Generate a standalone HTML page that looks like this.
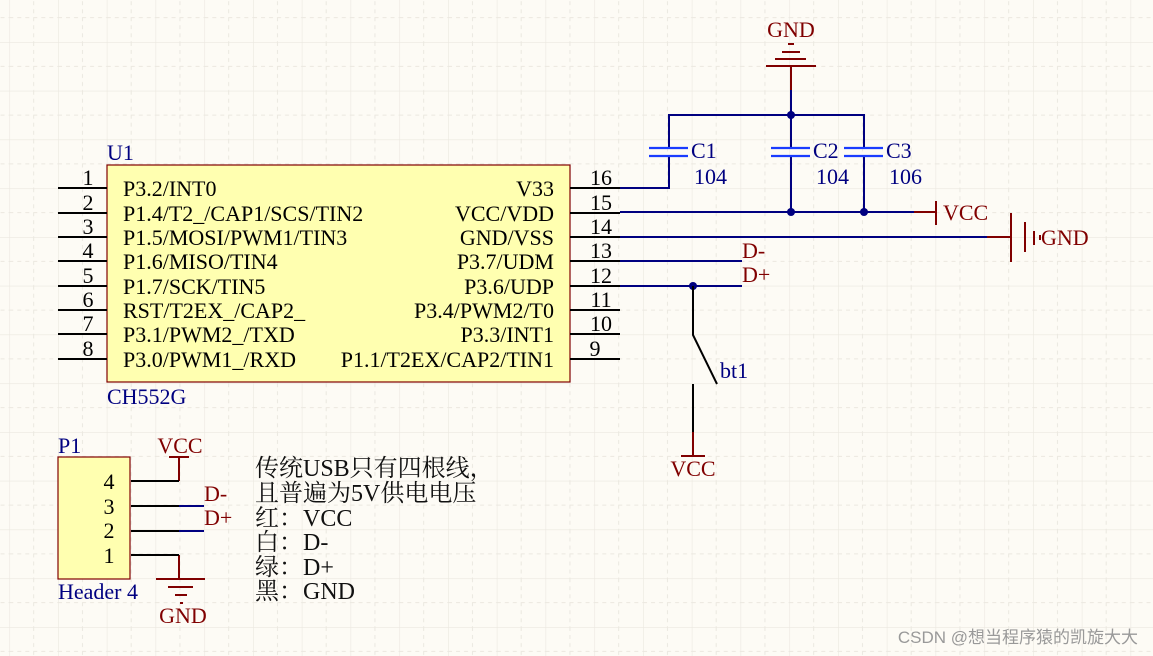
<!DOCTYPE html>
<html><head><meta charset="utf-8"><style>
html,body{margin:0;padding:0;background:#fdfbf5;}
svg{display:block}
text{font-family:"Liberation Serif","Noto Serif CJK SC",serif;}
</style></head><body>
<svg width="1153" height="656" viewBox="0 0 1153 656" xmlns="http://www.w3.org/2000/svg">
<defs>
<pattern id="g" x="9.3" y="42" width="48.75" height="48.75" patternUnits="userSpaceOnUse">
<path d="M0 0V48.75M0 0H48.75" stroke="#ebe8e0" stroke-width="1.2" fill="none"/>
<path d="M24.4 0V48.75M0 24.4H48.75" stroke="#ebe8e0" stroke-width="1" stroke-dasharray="4 4" fill="none"/>
</pattern>
</defs>
<rect width="1153" height="656" fill="#fdfbf5"/>
<rect width="1153" height="656" fill="url(#g)"/>

<!-- Chip -->
<rect x="107" y="165" width="463" height="217" fill="#ffffb0" stroke="#800000" stroke-width="1.2"/>
<text x="107" y="160" font-size="22" fill="#000080">U1</text>
<text x="107" y="404" font-size="22" fill="#000080">CH552G</text>
<g stroke="#000" stroke-width="2">
<path d="M58 188H107M58 213H107M58 237H107M58 261H107M58 286H107M58 310H107M58 334H107M58 359H107"/>
<path d="M570 188H620M570 213H620M570 237H620M570 261H620M570 286H620M570 310H620M570 334H620M570 359H620"/>
</g>
<g font-size="22" fill="#000">
<text x="88" y="185" text-anchor="middle">1</text><text x="88" y="210" text-anchor="middle">2</text>
<text x="88" y="234" text-anchor="middle">3</text><text x="88" y="258" text-anchor="middle">4</text>
<text x="88" y="283" text-anchor="middle">5</text><text x="88" y="307" text-anchor="middle">6</text>
<text x="88" y="331" text-anchor="middle">7</text><text x="88" y="356" text-anchor="middle">8</text>
<text x="601" y="185" text-anchor="middle">16</text><text x="601" y="210" text-anchor="middle">15</text>
<text x="601" y="234" text-anchor="middle">14</text><text x="601" y="258" text-anchor="middle">13</text>
<text x="601" y="283" text-anchor="middle">12</text><text x="601" y="307" text-anchor="middle">11</text>
<text x="601" y="331" text-anchor="middle">10</text><text x="595" y="356" text-anchor="middle">9</text>
<text x="123" y="196">P3.2/INT0</text>
<text x="123" y="221">P1.4/T2_/CAP1/SCS/TIN2</text>
<text x="123" y="245">P1.5/MOSI/PWM1/TIN3</text>
<text x="123" y="269">P1.6/MISO/TIN4</text>
<text x="123" y="294">P1.7/SCK/TIN5</text>
<text x="123" y="318">RST/T2EX_/CAP2_</text>
<text x="123" y="342">P3.1/PWM2_/TXD</text>
<text x="123" y="367">P3.0/PWM1_/RXD</text>
<g text-anchor="end">
<text x="554" y="196">V33</text>
<text x="554" y="221">VCC/VDD</text>
<text x="554" y="245">GND/VSS</text>
<text x="554" y="269">P3.7/UDM</text>
<text x="554" y="294">P3.6/UDP</text>
<text x="554" y="318">P3.4/PWM2/T0</text>
<text x="554" y="342">P3.3/INT1</text>
<text x="554" y="367">P1.1/T2EX/CAP2/TIN1</text>
</g>
</g>

<!-- wires -->
<g stroke="#000080" stroke-width="2" fill="none">
<path d="M620 188H669V156"/>
<path d="M669 148V115H864V148"/>
<path d="M791 115V148M791 156V213M864 156V213"/>
<path d="M791 115V90"/>
<path d="M620 212H914"/>
<path d="M620 237H987"/>
<path d="M620 261H742"/>
<path d="M620 286H742"/>
<path d="M179 506H204M179 531H204"/>
</g>
<g fill="#000080"><circle cx="791" cy="115" r="4"/><circle cx="791" cy="212" r="4"/><circle cx="864" cy="212" r="4"/><circle cx="693" cy="286" r="4"/></g>
<!-- caps -->
<g stroke="#1a3cff" stroke-width="2.2">
<path d="M649 148H688M649 156H688"/>
<path d="M771 148H810M771 156H810"/>
<path d="M844 148H883M844 156H883"/>
</g>
<g font-size="22" fill="#000080">
<text x="691" y="158">C1</text><text x="694" y="184">104</text>
<text x="813" y="158">C2</text><text x="816" y="184">104</text>
<text x="886" y="158">C3</text><text x="889" y="184">106</text>
<text x="720" y="378">bt1</text>
<text x="58" y="453">P1</text>
<text x="58" y="599">Header 4</text>
</g>
<!-- switch -->
<path d="M693 286V335L717 384M693 384V432" stroke="#000" stroke-width="2" fill="none"/>

<!-- red power symbols -->
<g stroke="#800000" stroke-width="2" fill="none">
<path d="M791 90V66M766 66H816M775 59H806M782 52H800M788 44H794"/>
<path d="M914 212H936M936 201V225"/>
<path d="M987 237H1011M1011 213V262M1025 222V252M1034 231V245M1040 235V240"/>
<path d="M693 432V456M681 456H705"/>
<path d="M179 481V457M169 457H189"/>
<path d="M179 555V579M156 579H205M168 587H193M175 595H187M180 603H183"/>
</g>
<g font-size="22" fill="#800000">
<text x="791" y="37" text-anchor="middle">GND</text>
<text x="943" y="220">VCC</text>
<text x="1041" y="245">GND</text>
<text x="742" y="258">D-</text>
<text x="742" y="282">D+</text>
<text x="693" y="476" text-anchor="middle">VCC</text>
<text x="180" y="453" text-anchor="middle">VCC</text>
<text x="183" y="623" text-anchor="middle">GND</text>
<text x="204" y="501">D-</text>
<text x="204" y="525">D+</text>
</g>

<!-- P1 -->
<rect x="58" y="457" width="72" height="122" fill="#ffffb0" stroke="#800000" stroke-width="1.2"/>
<g stroke="#000" stroke-width="2"><path d="M131 481H179M131 506H179M131 531H179M131 555H179"/></g>
<g font-size="22" fill="#000" text-anchor="middle">
<text x="109" y="489">4</text><text x="109" y="514">3</text><text x="109" y="538">2</text><text x="109" y="563">1</text>
</g>

<!-- note -->
<g font-size="24" fill="#111">
<text x="255" y="476">传统USB只有四根线，</text>
<text x="255" y="501">且普遍为5V供电电压</text>
<text x="255" y="526">红：VCC</text>
<text x="255" y="550">白：D-</text>
<text x="255" y="575">绿：D+</text>
<text x="255" y="599">黑：GND</text>
</g>
<text x="1138" y="643" text-anchor="end" font-size="17" fill="#999" style="font-family:'Liberation Sans','Noto Sans CJK SC',sans-serif">CSDN @想当程序猿的凯旋大大</text>
</svg>
</body></html>
